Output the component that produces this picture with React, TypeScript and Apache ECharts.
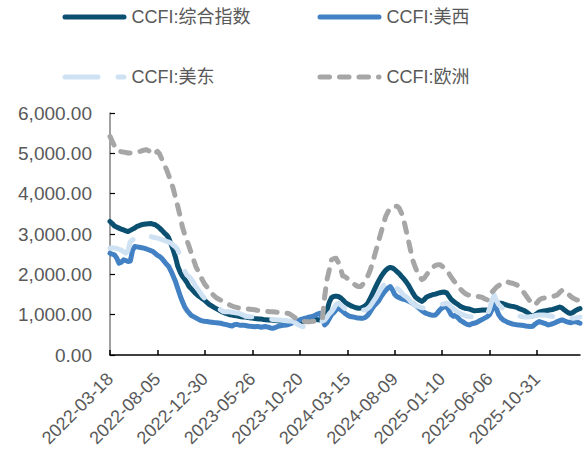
import React, { useEffect, useRef } from "react";
import * as echarts from "echarts";

const seriesNames = ["CCFI:综合指数", "CCFI:美西", "CCFI:美东", "CCFI:欧洲"];
const seriesColors = ["#0B4F71", "#4281C3", "#CFE2F3", "#A6A6A6"];

const tickLabels = [
  "2022-03-18", "2022-08-05", "2022-12-30", "2023-05-26", "2023-10-20",
  "2024-03-15", "2024-08-09", "2025-01-10", "2025-06-06", "2025-10-31",
];
const tickStep = 21;

const composite = [
  3310, 3260, 3200, 3170, 3146, 3120, 3100, 3080, 3062, 3090,
  3120, 3150, 3190, 3210, 3230, 3240, 3250, 3255, 3260, 3245,
  3230, 3190, 3146, 3090, 3030, 2980, 2900, 2750, 2600, 2420,
  2200, 2060, 1960, 1880, 1800, 1700, 1640, 1580, 1520, 1470,
  1430, 1390, 1350, 1300, 1250, 1215, 1180, 1150, 1120, 1090,
  1060, 1040, 1020, 1000, 990, 980, 970, 960, 950, 945,
  940, 930, 920, 915, 905, 900, 895, 890, 880, 875,
  870, 865, 860, 855, 850, 845, 840, 835, 830, 825,
  825, 820, 815, 810, 805, 815, 830, 850, 870, 880,
  885, 880, 875, 870, 880, 920, 1100, 1300, 1420, 1450,
  1460, 1450, 1420, 1370, 1310, 1270, 1240, 1210, 1190, 1170,
  1160, 1165, 1190, 1220, 1280, 1380, 1500, 1620, 1740, 1850,
  1950, 2030, 2100, 2150, 2170, 2160, 2120, 2070, 2020, 1950,
  1890, 1820, 1740, 1640, 1540, 1450, 1400, 1360, 1330, 1370,
  1430, 1460, 1480, 1500, 1510, 1530, 1545, 1555, 1560, 1540,
  1460, 1380, 1330, 1290, 1250, 1210, 1180, 1160, 1150, 1140,
  1120, 1100, 1100, 1105, 1110, 1115, 1115, 1115, 1120, 1180,
  1260, 1300, 1290, 1285, 1270, 1250, 1230, 1215, 1205, 1195,
  1180, 1150, 1130, 1110, 1080, 1040, 990, 970, 990, 1030,
  1070, 1080, 1090, 1100, 1110, 1120, 1130, 1150, 1170, 1190,
  1170, 1120, 1080, 1040, 1030, 1060, 1100, 1130, 1150,
];

const usWest = [
  2525, 2500, 2483, 2400, 2276, 2300, 2359, 2340, 2320, 2330,
  2600, 2690, 2680, 2670, 2660, 2649, 2630, 2610, 2590, 2566,
  2520, 2470, 2442, 2390, 2320, 2250, 2193, 2080, 1950, 1820,
  1650, 1480, 1330, 1200, 1110, 1040, 980, 951, 920, 890,
  860, 845, 835, 828, 820, 812, 805, 800, 795, 787,
  770, 760, 745, 730, 720, 750, 760, 745, 735, 740,
  730, 720, 710, 705, 700, 710, 700, 690, 700, 704,
  690, 670, 662, 680, 700, 720, 730, 740, 745, 755,
  780, 800, 820, 840, 869, 890, 905, 920, 940, 951,
  960, 990, 1020, 1035, 900, 745, 800, 900, 1000, 1050,
  1120, 1159, 1130, 1080, 1030, 990, 960, 950, 940, 925,
  915, 910, 911, 930, 980, 1060, 1150, 1230, 1283, 1350,
  1450, 1530, 1600, 1660, 1696, 1620, 1500, 1448, 1420, 1400,
  1380, 1366, 1340, 1310, 1283, 1240, 1200, 1150, 1100, 1060,
  1030, 1010, 993, 985, 993, 1050, 1120, 1170, 1190, 1200,
  1100, 1000, 960, 993, 920, 860, 828, 790, 760, 745,
  770, 787, 800, 830, 860, 890, 920, 951, 1000, 1120,
  1260, 1150, 1000, 920, 869, 840, 810, 790, 770, 760,
  750, 745, 740, 730, 720, 712, 704, 710, 760, 800,
  828, 810, 790, 770, 745, 760, 780, 800, 830, 850,
  869, 850, 828, 810, 800, 820, 830, 810, 787,
];

const usEast = [
  2649, 2660, 2650, 2640, 2620, 2600, 2560, 2525, 2600, 2814,
  2850, 2900, 2940, 2960, 2970, 2975, 2955, 2950, 2940, 2920,
  2910, 2897, 2880, 2860, 2840, 2820, 2800, 2773, 2720, 2680,
  2607, 2450, 2250, 2090, 1986, 1944, 1880, 1800, 1696, 1620,
  1540, 1460, 1400, 1366, 1320, 1280, 1230, 1190, 1160, 1117,
  1080, 1075, 1075, 1070, 1060, 1050, 1040, 1035, 1010, 990,
  960, 951, 950, 945, 940, 935, 930, 920, 915, 911,
  900, 890, 880, 875, 870, 865, 860, 855, 850, 845,
  840, 830, 800, 760, 730, 705, 704, 745, 780, 800,
  810, 820, 830, 828, 840, 869, 940, 1020, 1075, 1150,
  1250, 1283, 1250, 1200, 1150, 1100, 1080, 1075, 1075, 1080,
  1100, 1110, 1115, 1117, 1150, 1200, 1280, 1366, 1450, 1550,
  1650, 1720, 1780, 1850, 1862, 1800, 1720, 1650, 1614, 1550,
  1480, 1448, 1400, 1330, 1283, 1240, 1210, 1190, 1175, 1160,
  1159, 1180, 1200, 1220, 1235, 1241, 1250, 1260, 1270, 1283,
  1250, 1200, 1150, 1100, 1060, 1035, 1000, 980, 960, 951,
  945, 940, 935, 940, 950, 960, 990, 1000, 1150, 1350,
  1490, 1350, 1250, 1200, 1150, 1100, 1060, 1035, 1020, 1000,
  980, 965, 955, 950, 945, 940, 951, 960, 975, 985,
  990, 993, 990, 985, 975, 965, 955, 951, 960, 975,
  993, 980, 960, 940, 920, 911, 920, 930, 940,
];

const europe = [
  5420, 5300, 5180, 5090, 5048, 5040, 5030, 5020, 5010, 5008,
  5010, 5020, 5030, 5040, 5060, 5080, 5090, 5070, 5020, 4970,
  5000, 5050, 4980, 4850, 4720, 4600, 4450, 4300, 4120, 3900,
  3683, 3450, 3186, 3000, 2850, 2690, 2520, 2360, 2193, 2080,
  1960, 1850, 1750, 1680, 1600, 1530, 1470, 1420, 1390, 1360,
  1330, 1300, 1270, 1240, 1215, 1195, 1180, 1165, 1155, 1150,
  1145, 1140, 1135, 1130, 1120, 1110, 1100, 1095, 1090, 1085,
  1080, 1075, 1070, 1065, 1060, 1050, 1050, 1045, 1040, 1030,
  1000, 960, 920, 880, 860, 840, 830, 825, 825, 828,
  835, 845, 860, 880, 900, 1448, 1862, 2100, 2359, 2390,
  2400, 2300, 2150, 1960, 1944, 1900, 1850, 1800, 1760, 1720,
  1696, 1700, 1760, 1840, 1950, 2080, 2250, 2450, 2650, 2855,
  3050, 3250, 3434, 3550, 3640, 3683, 3690, 3690, 3640, 3520,
  3350, 3100, 2855, 2600, 2350, 2193, 2050, 1950, 1870, 1900,
  1980, 2060, 2130, 2180, 2220, 2235, 2240, 2200, 2150, 2110,
  2020, 1930, 1850, 1780, 1700, 1640, 1580, 1532, 1500, 1480,
  1460, 1450, 1448, 1448, 1440, 1420, 1390, 1366, 1450, 1560,
  1614, 1680, 1720, 1760, 1780, 1820, 1810, 1790, 1780, 1760,
  1738, 1700, 1630, 1560, 1480, 1400, 1324, 1250, 1250, 1300,
  1366, 1400, 1410, 1420, 1430, 1440, 1450, 1470, 1490, 1550,
  1600, 1610, 1560, 1500, 1448, 1408, 1380, 1360, 1340,
];

const seriesData = [composite, usWest, usEast, europe];

// weekly category dates starting on the first tick label
const startDate = Date.UTC(2022, 2, 18);
const dates: string[] = composite.map((_, i) =>
  new Date(startDate + i * 7 * 86400000).toISOString().slice(0, 10)
);

const FONT = "'Liberation Sans', Arial, 'Noto Sans CJK SC', sans-serif";
const TEXT_COLOR = "#595959";

export default function App() {
  const ref = useRef<HTMLDivElement>(null);
  useEffect(() => {
    if (!ref.current) return;
    const chart = echarts.init(ref.current, null, { renderer: "svg" });
    const lineStyles: any[] = [
      { width: 5, type: "solid", cap: "round", join: "round" },
      { width: 5, type: "solid", cap: "round", join: "round" },
      { width: 5, type: [33, 20], cap: "round", join: "round" },
      { width: 5, type: [9.5, 10], cap: "round", join: "round" },
    ];
    const legendPos = [
      { left: 62.5, top: 8 },
      { left: 317.5, top: 8 },
      { left: 62.5, top: 68 },
      { left: 317.5, top: 68 },
    ];
    chart.setOption({
      animation: false,
      backgroundColor: "#ffffff",
      textStyle: { fontFamily: FONT },
      legend: seriesNames.map((name, k) => ({
        data: [name],
        left: legendPos[k].left,
        top: legendPos[k].top,
        padding: 0,
        itemWidth: 59,
        itemHeight: 18,
        itemGap: 5,
        itemStyle: { opacity: 0 },
        lineStyle: { width: 5, cap: "round" },
        textStyle: { fontSize: 18, color: TEXT_COLOR, fontFamily: FONT, padding: [0, 0, 0, 2.5] },
      })),
      grid: { left: 110, right: 7, top: 113, bottom: 99, containLabel: false },
      xAxis: {
        type: "category",
        data: dates,
        boundaryGap: false,
        axisLine: { lineStyle: { color: "#000000", width: 1.5 } },
        axisTick: { inside: true, length: 5, interval: tickStep - 1, lineStyle: { color: "#000000", width: 1.5 } },
        axisLabel: {
          interval: tickStep - 1,
          rotate: 45,
          fontSize: 18,
          color: TEXT_COLOR,
          fontFamily: FONT,
          margin: 21,
          formatter: (_v: string, idx: number) =>
            idx % tickStep === 0 ? tickLabels[idx / tickStep] ?? "" : "",
        },
        splitLine: { show: false },
      },
      yAxis: {
        type: "value",
        min: 0,
        max: 6000,
        interval: 1000,
        axisLine: { show: true, lineStyle: { color: "#808080", width: 1.5 } },
        axisTick: { show: true, inside: true, length: 5, lineStyle: { color: "#000000", width: 1.2 } },
        axisLabel: {
          fontSize: 19,
          color: TEXT_COLOR,
          fontFamily: FONT,
          margin: 18,
          formatter: (v: number) =>
            v.toLocaleString("en-US", { minimumFractionDigits: 2, maximumFractionDigits: 2 }),
        },
        splitLine: { show: false },
      },
      series: seriesNames.map((name, k) => ({
        name,
        type: "line",
        data: seriesData[k],
        symbol: "none",
        showSymbol: false,
        color: seriesColors[k],
        lineStyle: { color: seriesColors[k], ...lineStyles[k] },
      })),
    });
    return () => chart.dispose();
  }, []);
  return (
    <div
      ref={ref}
      style={{ position: "absolute", left: 0, top: 0, width: 587, height: 454 }}
    />
  );
}
